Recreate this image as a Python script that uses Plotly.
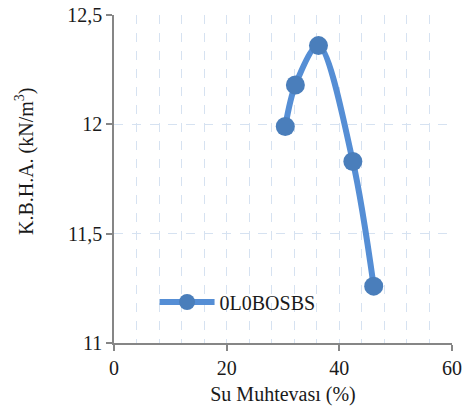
import plotly.graph_objects as go

water = [30.4, 32.2, 36.3, 42.4, 46.1]
density = [11.99, 12.18, 12.36, 11.83, 11.26]
series_name = "0L0BOSBS"
x_ticks = [0, 20, 40, 60]
y_ticks = [11, 11.5, 12, 12.5]
y_tick_text = ["11", "11,5", "12", "12,5"]
x_title = "Su Muhtevası (%)"
y_title = "K.B.H.A. (kN/m<sup>3</sup>)"

grid = "#D6E2F1"
axis_col = "#868686"
serif = "Liberation Serif, Times New Roman, serif"

fig = go.Figure()
fig.add_trace(go.Scatter(
    x=water, y=density, name=series_name, mode="lines+markers",
    line=dict(color="#558ED5", width=6, shape="spline", smoothing=0.9),
    marker=dict(color="#4A7EBB", size=19, line=dict(width=0)),
))

fig.update_layout(
    width=470, height=417,
    margin=dict(l=114, r=18, t=15, b=74),
    paper_bgcolor="white", plot_bgcolor="white",
    font=dict(family=serif, size=20, color="#1a1a1a"),
    showlegend=True,
    legend=dict(x=0.12, y=0.125, xanchor="left", yanchor="middle",
                bgcolor="rgba(0,0,0,0)", font=dict(family=serif, size=20), itemwidth=55),
    annotations=[dict(text=y_title, xref="paper", yref="paper", x=-0.263, y=0.555,
                      xanchor="center", yanchor="middle", textangle=-90, showarrow=False,
                      font=dict(family=serif, size=20, color="#1a1a1a"))],
)
fig.update_xaxes(
    range=[0, 60], tickvals=x_ticks, ticks="outside", ticklen=6, tickcolor=axis_col,
    tickwidth=1.5, showline=True, linecolor=axis_col, linewidth=1.5,
    tickfont=dict(family=serif, size=20), automargin=False,
    showgrid=True, gridcolor=grid, griddash="dash", gridwidth=1,
    minor=dict(dtick=4, showgrid=True, gridcolor=grid, griddash="dash", gridwidth=1),
    zeroline=False,
    title=dict(text=x_title, standoff=9, font=dict(family=serif, size=20)),
)
fig.update_yaxes(
    range=[11, 12.5], tickvals=y_ticks, ticktext=y_tick_text, ticks="outside", ticklen=6,
    tickcolor=axis_col, tickwidth=1.5, showline=True, linecolor=axis_col, linewidth=1.5,
    tickfont=dict(family=serif, size=20), automargin=False,
    showgrid=True, gridcolor=grid, griddash="dash", gridwidth=1, zeroline=False,
)

fig.write_html("out.html", post_script="document.body.style.margin='0';",
               config={"displayModeBar": False})
